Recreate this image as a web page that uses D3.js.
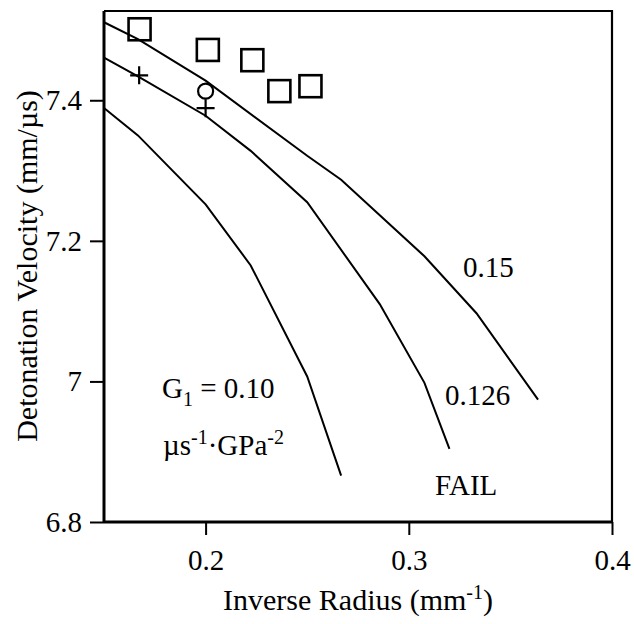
<!DOCTYPE html>
<html>
<head>
<meta charset="utf-8">
<script src="https://cdn.jsdelivr.net/npm/d3@7"></script>
<style>
  html, body { margin: 0; padding: 0; background: #fff; }
  svg { display: block; }
  svg text { font-family: "Liberation Serif", "Times New Roman", Times, "DejaVu Serif", serif !important; fill: #000; }
</style>
</head>
<body>
<svg id="chart" width="634" height="624"></svg>
<script>
// Inverse charge radius (1/mm) and computed detonation velocity (mm/us)
const curveG010X = [0.15, 0.1667, 0.2, 0.2222, 0.25, 0.2667];
const curveG010Y = [7.389, 7.35, 7.252, 7.165, 7.007, 6.866];
const curveG0126X = [0.15, 0.1667, 0.2, 0.2222, 0.25, 0.2857, 0.3077, 0.32];
const curveG0126Y = [7.4605, 7.434, 7.378, 7.328, 7.255, 7.11, 6.998, 6.904];
const curveG015X = [0.15, 0.1667, 0.2, 0.25, 0.2667, 0.3077, 0.3333, 0.3636];
const curveG015Y = [7.511, 7.487, 7.428, 7.321, 7.287, 7.178, 7.097, 6.974];

// Measured velocities
const squareX = [0.1675, 0.2011, 0.223, 0.2363, 0.2516];
const squareY = [7.501, 7.4716, 7.457, 7.413, 7.420];
const plusX = [0.1673, 0.2];
const plusY = [7.4355, 7.3887];
const circleX = [0.2];
const circleY = [7.413];

const xTicks = [0.2, 0.3, 0.4];
const yTicks = [6.8, 7, 7.2, 7.4];

const FONT = '"Liberation Serif", "Times New Roman", Times, "DejaVu Serif", serif';

const svg = d3.select("#chart");
const plotL = 104, plotR = 612, plotT = 11, plotB = 522;

const x = d3.scaleLinear().domain([0.15, 0.4]).range([plotL, plotR]);
const y = d3.scaleLinear().domain([6.8, 7.527]).range([plotB, plotT]);

// Frame (top and right)
svg.append("path")
  .attr("d", `M${plotL},${plotT}H${plotR}V${plotB}`)
  .attr("fill", "none").attr("stroke", "#000").attr("stroke-width", 2.2);

// Axes
const xAxis = svg.append("g")
  .attr("transform", `translate(0,${plotB})`)
  .call(d3.axisBottom(x).tickValues(xTicks).tickSize(13).tickPadding(14).tickFormat(d3.format(".1f")));
const yAxis = svg.append("g")
  .attr("transform", `translate(${plotL},0)`)
  .call(d3.axisLeft(y).tickValues(yTicks).tickSize(14).tickPadding(8).tickFormat(d => d === 7 ? "7" : d3.format(".1f")(d)));

[xAxis, yAxis].forEach(g => {
  g.attr("font-family", FONT).attr("font-size", 29);
  g.select(".domain").attr("stroke-width", 3).attr("stroke", "#000");
  g.selectAll(".tick line").attr("stroke-width", 2).attr("stroke", "#000");
  g.selectAll(".tick text").attr("fill", "#000");
});
// plain axis lines without the outer end ticks
xAxis.select(".domain").attr("d", `M${plotL},0H${plotR}`);
yAxis.select(".domain").attr("d", `M0,${plotT}V${plotB}`);

// Model curves
const line = d3.line().x(d => x(d[0])).y(d => y(d[1]));
[[curveG010X, curveG010Y], [curveG0126X, curveG0126Y], [curveG015X, curveG015Y]].forEach(([xs, ys]) => {
  svg.append("path")
    .datum(xs.map((v, i) => [v, ys[i]]))
    .attr("d", line)
    .attr("fill", "none").attr("stroke", "#000").attr("stroke-width", 2);
});

// Square markers
const sq = 22;
svg.append("g").selectAll("rect")
  .data(squareX.map((v, i) => [v, squareY[i]]))
  .join("rect")
  .attr("x", d => x(d[0]) - sq / 2).attr("y", d => y(d[1]) - sq / 2)
  .attr("width", sq).attr("height", sq)
  .attr("fill", "none").attr("stroke", "#000").attr("stroke-width", 2.6);

// Plus markers
const ph = 9;
svg.append("g").selectAll("path")
  .data(plusX.map((v, i) => [v, plusY[i]]))
  .join("path")
  .attr("d", d => {
    const cx = x(d[0]), cy = y(d[1]);
    return `M${cx - ph},${cy}H${cx + ph}M${cx},${cy - ph}V${cy + ph}`;
  })
  .attr("fill", "none").attr("stroke", "#000").attr("stroke-width", 2.2);

// Circle markers
svg.append("g").selectAll("circle")
  .data(circleX.map((v, i) => [v, circleY[i]]))
  .join("circle")
  .attr("cx", d => x(d[0])).attr("cy", d => y(d[1])).attr("r", 7.5)
  .attr("fill", "none").attr("stroke", "#000").attr("stroke-width", 2.2);

// Axis titles
svg.append("text")
  .attr("x", 358).attr("y", 610)
  .attr("text-anchor", "middle").attr("font-family", FONT).attr("font-size", 30)
  .call(t => {
    t.append("tspan").text("Inverse Radius (mm");
    t.append("tspan").attr("dy", -11).attr("font-size", 20).text("-1");
    t.append("tspan").attr("dy", 11).text(")");
  });

svg.append("text")
  .attr("transform", "translate(37,266) rotate(-90)")
  .attr("text-anchor", "middle").attr("font-family", FONT).attr("font-size", 30)
  .text("Detonation Velocity (mm/\u00b5s)");

// Curve labels
const label = (tx, ty, s) => svg.append("text").attr("x", tx).attr("y", ty)
  .attr("font-family", FONT).attr("font-size", 29).text(s);
label(463, 277, "0.15");
label(445, 405, "0.126");
label(435, 495, "FAIL");

svg.append("text").attr("x", 162).attr("y", 398).attr("font-family", FONT).attr("font-size", 29)
  .call(t => {
    t.append("tspan").text("G");
    t.append("tspan").attr("dy", 8).attr("font-size", 20).text("1");
    t.append("tspan").attr("dy", -8).text(" = 0.10");
  });

svg.append("text").attr("x", 163).attr("y", 455).attr("font-family", FONT).attr("font-size", 29)
  .call(t => {
    t.append("tspan").text("\u00b5s");
    t.append("tspan").attr("dy", -11).attr("font-size", 20).text("-1");
    t.append("tspan").attr("dy", 11).text("\u00b7GPa");
    t.append("tspan").attr("dy", -11).attr("font-size", 20).text("-2");
  });
</script>
</body>
</html>
